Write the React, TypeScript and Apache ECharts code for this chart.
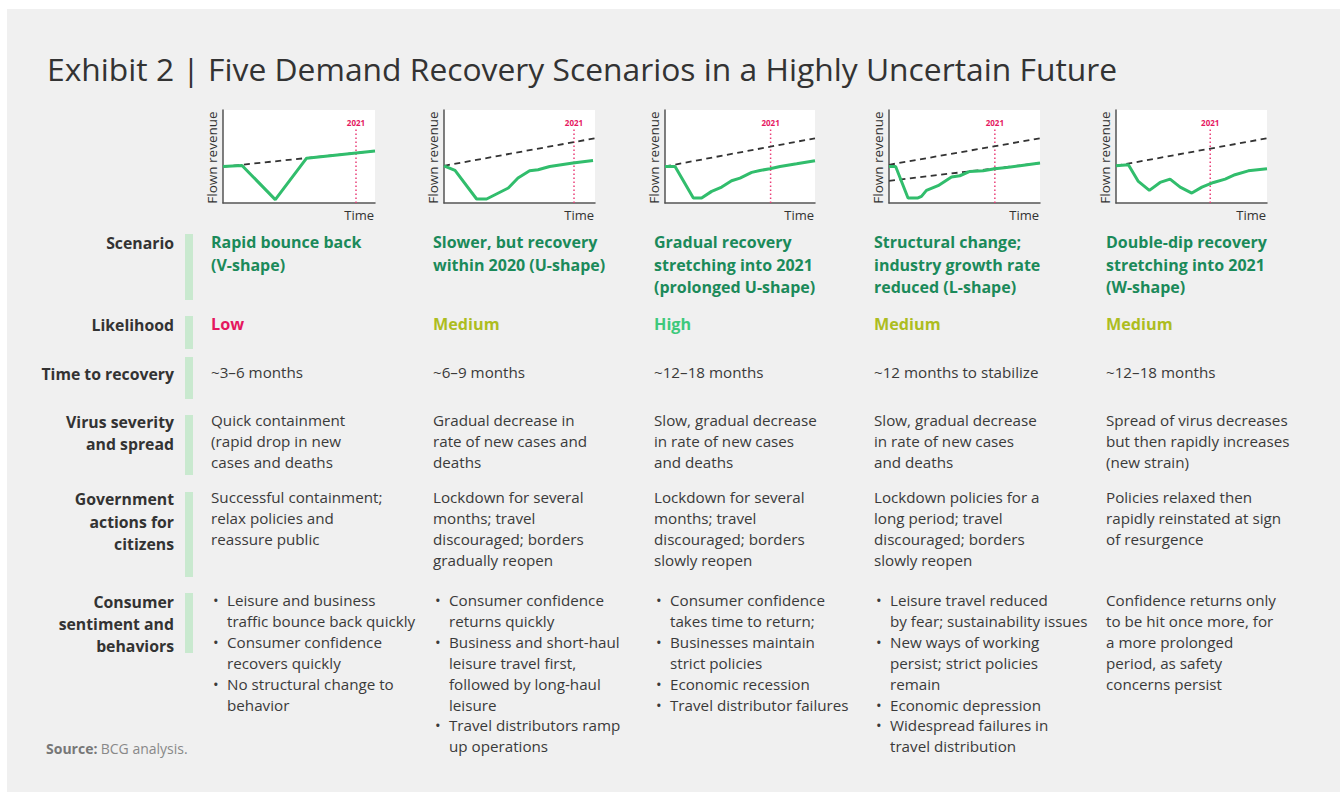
import React, { useEffect, useRef } from "react";
import * as echarts from "echarts";

// ---------- data ----------
const titleText = "Exhibit 2 | Five Demand Recovery Scenarios in a Highly Uncertain Future";

// mini chart series: [time, flown revenue] (0-100 scales)
const recovery1 = [[0, 39.3], [12.5, 40.4], [34.4, 3.6], [55, 48.2], [100, 56]];
const recovery2 = [[0, 40], [7.3, 35], [21.6, 4.3], [28.2, 4.3], [42.6, 16.1], [49, 26.8], [56.7, 34.6], [62.3, 35.7], [70, 39.3], [85.4, 42.9], [98.7, 45.7]];
const recovery3 = [[0, 39.3], [6.7, 39.3], [18.9, 5.4], [24.4, 5.4], [31.1, 12.5], [37.8, 17.1], [44.4, 23.9], [50, 26.8], [57.8, 32.9], [63.3, 35], [70, 36.8], [76.7, 39.3], [87.8, 42.1], [100, 45.4]];
const recovery4 = [[0, 39.3], [4.4, 39.3], [12.6, 5.4], [19.2, 5.4], [21.5, 7.1], [24.8, 13.6], [32.5, 18.6], [41.4, 27.9], [46.9, 29.3], [53.5, 33.9], [62.4, 34.6], [70.1, 36.8], [77.9, 38.2], [86.7, 40], [100, 42.9]];
const recovery5 = [[0, 40], [8.2, 41.1], [14.8, 23.2], [22.1, 13.6], [29.2, 22.1], [35.8, 25.7], [42.5, 17.1], [50.2, 10.7], [56.9, 17.1], [64.6, 22.1], [72.3, 25.7], [78.8, 30.4], [87.6, 34.6], [100, 36.8]];
const recoveries = [recovery1, recovery2, recovery3, recovery4, recovery5];

// pre-crisis trend lines (dashed): [start, end]
const trends = [
  [[[0, 39], [100, 56]]],
  [[[0, 40], [100, 69.6]]],
  [[[0, 39.3], [100, 69.6]]],
  [[[0, 41.1], [100, 69.6]], [[0, 23.9], [100, 42.9]]],
  [[[0, 40], [100, 69.6]]],
];
// position of the 2021 marker on the time axis
const year2021 = [87.5, 86.1, 70.4, 70.1, 62.4];
const markerTop = 79;

const rowLabels = [
  ["Scenario"],
  ["Likelihood"],
  ["Time to recovery"],
  ["Virus severity", "and spread"],
  ["Government", "actions for", "citizens"],
  ["Consumer", "sentiment and", "behaviors"],
];

const scenarioNames = [
  ["Rapid bounce back", "(V-shape)"],
  ["Slower, but recovery", "within 2020 (U-shape)"],
  ["Gradual recovery", "stretching into 2021", "(prolonged U-shape)"],
  ["Structural change;", "industry growth rate", "reduced (L-shape)"],
  ["Double-dip recovery", "stretching into 2021", "(W-shape)"],
];
const likelihood = ["Low", "Medium", "High", "Medium", "Medium"];
const timeToRecovery = ["~3–6 months", "~6–9 months", "~12–18 months", "~12 months to stabilize", "~12–18 months"];
const virusSeverity = [
  ["Quick containment", "(rapid drop in new", "cases and deaths"],
  ["Gradual decrease in", "rate of new cases and", "deaths"],
  ["Slow, gradual decrease", "in rate of new cases", "and deaths"],
  ["Slow, gradual decrease", "in rate of new cases", "and deaths"],
  ["Spread of virus decreases", "but then rapidly increases", "(new strain)"],
];
const government = [
  ["Successful containment;", "relax policies and", "reassure public"],
  ["Lockdown for several", "months; travel", "discouraged; borders", "gradually reopen"],
  ["Lockdown for several", "months; travel", "discouraged; borders", "slowly reopen"],
  ["Lockdown policies for a", "long period; travel", "discouraged; borders", "slowly reopen"],
  ["Policies relaxed then", "rapidly reinstated at sign", "of resurgence"],
];
// bullets: each bullet is a list of lines
const consumer1 = [["Leisure and business", "traffic bounce back quickly"], ["Consumer confidence", "recovers quickly"], ["No structural change to", "behavior"]];
const consumer2 = [["Consumer confidence", "returns quickly"], ["Business and short-haul", "leisure travel first,", "followed by long-haul", "leisure"], ["Travel distributors ramp", "up operations"]];
const consumer3 = [["Consumer confidence", "takes time to return;"], ["Businesses maintain", "strict policies"], ["Economic recession"], ["Travel distributor failures"]];
const consumer4 = [["Leisure travel reduced", "by fear; sustainability issues"], ["New ways of working", "persist; strict policies", "remain"], ["Economic depression"], ["Widespread failures in", "travel distribution"]];
const consumer5 = ["Confidence returns only", "to be hit once more, for", "a more prolonged", "period, as safety", "concerns persist"];
const sourceText = "BCG analysis.";

// ---------- layout / style ----------
const W = 1343;
const H = 792;
const plotLefts = [223, 444, 665, 889, 1116];
const plotWidths = [152, 151, 150, 151, 151];
const plotTop = 110;
const plotHeight = 93;
const colX = [211, 433, 654, 874, 1106];
const FONT = "'Open Sans', 'Noto Sans', sans-serif";
const TEXT = "#3a3a3a";
const LABEL = "#333333";
const GREEN_DARK = "#1b8a5a";
const LINE_GREEN = "#31bd6c";
const PINK = "#e5175f";
const likelihoodColor: Record<string, string> = { Low: "#e5175f", Medium: "#adbd1f", High: "#3ec97c" };

// row geometry: label line centres, bar extents
const rowLabelY = [243, 325, 374, 422, 499, 602];
const rowLabelLH = [22, 22, 22, 22, 22.5, 22];
const rowBars = [[234, 300], [316, 349], [357, 399], [415, 475], [492, 577], [593, 653]];

export default function App() {
  const ref = useRef<HTMLDivElement>(null);
  useEffect(() => {
    if (!ref.current) return;
    const chart = echarts.init(ref.current, undefined, { renderer: "svg" });

    const grids: any[] = [];
    const xAxes: any[] = [];
    const yAxes: any[] = [];
    const series: any[] = [];
    const graphics: any[] = [];

    // background margins
    graphics.push({ type: "rect", shape: { x: 0, y: 0, width: W, height: 9 }, style: { fill: "#fff" } });
    graphics.push({ type: "rect", shape: { x: 0, y: 0, width: 7, height: H }, style: { fill: "#fff" } });
    graphics.push({ type: "rect", shape: { x: 1340, y: 0, width: 3, height: H }, style: { fill: "#fff" } });

    graphics.push({
      type: "text", x: 47, y: 68,
      style: { text: titleText, fill: "#333", font: `31.8px ${FONT}`, align: "left", verticalAlign: "middle" },
    });

    const axisLine = { show: true, onZero: false, lineStyle: { color: "#555", width: 1.5 } };

    for (let i = 0; i < 5; i++) {
      grids.push({
        left: plotLefts[i], top: plotTop, width: plotWidths[i], height: plotHeight,
        show: true, backgroundColor: "#ffffff", borderWidth: 0,
      });
      xAxes.push({
        type: "value", gridIndex: i, min: 0, max: 100,
        axisLine, axisTick: { show: false }, axisLabel: { show: false }, splitLine: { show: false },
      });
      yAxes.push({
        type: "value", gridIndex: i, min: 0, max: 100,
        axisLine, axisTick: { show: false }, axisLabel: { show: false }, splitLine: { show: false },
      });
      // 2021 marker
      series.push({
        type: "line", xAxisIndex: i, yAxisIndex: i, z: 1, silent: true,
        showSymbol: true, symbol: "circle", symbolSize: 0.01,
        itemStyle: { color: "#ea3f78" },
        lineStyle: { color: "#ea3f78", width: 1.5, type: [1.5, 2.5] },
        data: [
          { value: [year2021[i], 0], label: { show: false } },
          {
            value: [year2021[i], markerTop],
            label: {
              show: true, position: "top", distance: 3, formatter: "2021",
              color: PINK, fontSize: 8, fontWeight: "bold", fontFamily: FONT,
            },
          },
        ],
      });
      trends[i].forEach((t) => {
        series.push({
          type: "line", xAxisIndex: i, yAxisIndex: i, z: 2, silent: true,
          symbol: "none", lineStyle: { color: "#333", width: 1.8, type: [6, 4.5] },
          data: t,
        });
      });
      series.push({
        type: "line", xAxisIndex: i, yAxisIndex: i, z: 3, silent: true,
        symbol: "none", lineStyle: { color: LINE_GREEN, width: 3 },
        data: recoveries[i],
      });
      graphics.push({
        type: "text", x: plotLefts[i] + plotWidths[i] - 1, y: 215,
        style: { text: "Time", fill: "#333", font: `13px ${FONT}`, align: "right", verticalAlign: "middle" },
      });
      graphics.push({
        type: "text", x: plotLefts[i] - 11, y: plotTop + plotHeight / 2 + 1, rotation: Math.PI / 2,
        style: { text: "Flown revenue", fill: "#333", font: `13.5px ${FONT}`, align: "center", verticalAlign: "middle" },
      });
    }

    // row labels & bars
    rowLabels.forEach((lines, r) => {
      graphics.push({
        type: "text", x: 174, y: rowLabelY[r] - rowLabelLH[r] / 2,
        style: {
          text: lines.join("\n"), fill: LABEL, font: `bold 15.8px ${FONT}`,
          align: "right", verticalAlign: "top", lineHeight: rowLabelLH[r],
        },
      });
      graphics.push({
        type: "rect", shape: { x: 185, y: rowBars[r][0], width: 8, height: rowBars[r][1] - rowBars[r][0] },
        style: { fill: "#c9e9cf" },
      });
    });

    const addBlock = (x: number, yCenter: number, lines: string[], color: string, weight: string, lh = 21, size = 15.2) => {
      graphics.push({
        type: "text", x, y: yCenter - lh / 2,
        style: {
          text: lines.join("\n"), fill: color, font: `${weight} ${size}px ${FONT}`,
          align: "left", verticalAlign: "top", lineHeight: lh,
        },
      });
    };

    const consumers = [consumer1, consumer2, consumer3, consumer4];
    for (let c = 0; c < 5; c++) {
      const x = colX[c];
      addBlock(x, 242, scenarioNames[c], GREEN_DARK, "bold", 22.5, 16);
      addBlock(x, 324, [likelihood[c]], likelihoodColor[likelihood[c]], "bold", 21, 16.2);
      addBlock(x, 372, [timeToRecovery[c]], TEXT, "normal");
      addBlock(x, 420, virusSeverity[c], TEXT, "normal");
      addBlock(x, 497, government[c], TEXT, "normal");
      if (c < 4) {
        let y = 600;
        consumers[c].forEach((b) => {
          graphics.push({
            type: "text", x: x + 2, y: y - 10.5,
            style: { text: "•", fill: TEXT, font: `15px ${FONT}`, align: "left", verticalAlign: "top", lineHeight: 21 },
          });
          addBlock(x + 16, y, b, TEXT, "normal");
          y += b.length * 20.9;
        });
      } else {
        addBlock(x, 600, consumer5, TEXT, "normal");
      }
    }

    graphics.push({
      type: "text", x: 46, y: 748,
      style: {
        rich: {
          b: { fontWeight: "bold", fontSize: 14, fontFamily: FONT, fill: "#777" },
          n: { fontSize: 14, fontFamily: FONT, fill: "#888" },
        },
        text: `{b|Source:} {n|${sourceText}}`,
        align: "left", verticalAlign: "middle",
      },
    });

    chart.setOption({
      animation: false,
      backgroundColor: "#f0f0f0",
      grid: grids,
      xAxis: xAxes,
      yAxis: yAxes,
      series,
      graphic: graphics,
    });
    return () => chart.dispose();
  }, []);
  return <div ref={ref} style={{ position: "absolute", left: 0, top: 0, width: W, height: H }} />;
}
